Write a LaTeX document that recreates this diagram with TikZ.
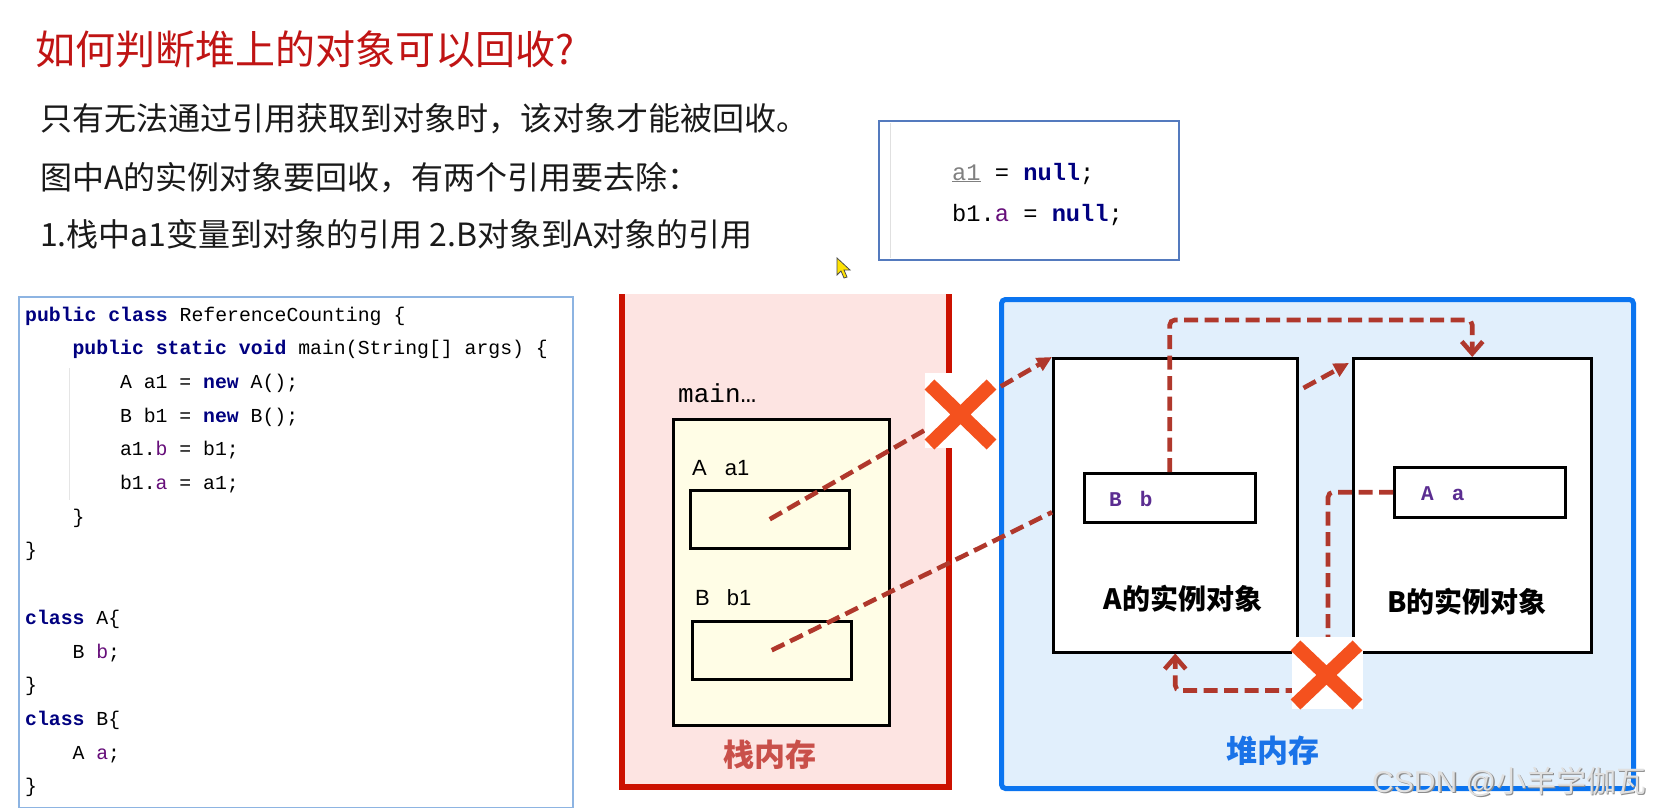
\documentclass[tikz,border=0pt]{standalone}
\usepackage{fontspec}
\setmainfont{Liberation Sans}
\newfontfamily\cjk{Noto Sans CJK SC}
\newfontfamily\mono{Liberation Mono}
\usetikzlibrary{arrows.meta,calc,shapes.misc}
\definecolor{titlered}{RGB}{192,20,20}
\definecolor{txtc}{RGB}{26,26,26}
\definecolor{kwc}{RGB}{0,0,128}
\definecolor{fldc}{RGB}{102,14,122}
\definecolor{codeborder}{RGB}{141,180,226}
\definecolor{nullborder}{RGB}{84,122,190}
\definecolor{stackfill}{RGB}{253,228,226}
\definecolor{stackred}{RGB}{204,17,0}
\definecolor{stacktxt}{RGB}{201,80,74}
\definecolor{framefill}{RGB}{255,253,230}
\definecolor{heapfill}{RGB}{225,239,252}
\definecolor{heapblue}{RGB}{10,116,240}
\definecolor{heaptxt}{RGB}{26,115,232}
\definecolor{dashred}{RGB}{176,56,44}
\definecolor{xorange}{RGB}{244,81,30}
\definecolor{varpurple}{RGB}{91,45,145}
\newcommand{\kwd}[1]{\textcolor{kwc}{\bfseries #1}}
\newcommand{\fld}[1]{\textcolor{fldc}{#1}}
\tikzset{
  box/.style={draw=black, line width=2.5pt, fill=white, inner sep=0pt, anchor=north west},
  txt/.style={inner sep=0pt, anchor=base west},
  code/.style={txt, font=\mono\fontsize{19.8}{24}\selectfont},
  body/.style={txt, text=txtc, font=\cjk\fontsize{32}{38}\selectfont},
  conn/.style={draw=dashred, line width=4.6pt, dash pattern=on 14pt off 6.5pt},
  tri/.style={-{Triangle[length=15pt,width=14pt]}},
  barb/.style={-{Straight Barb[length=12pt,width=21pt]}},
  whitesq/.style={fill=white, inner sep=0pt},
  xmark/.style={cross out, draw=xorange, line width=14pt, inner sep=0pt},
}
\begin{document}
\begin{tikzpicture}[x=1pt,y=-1pt]
\fill[white] (0,0) rectangle (1659,808);
\useasboundingbox (0,0) rectangle (1659,808);

% title and text
\node[txt, text=titlered, font=\cjk\fontsize{40}{48}\selectfont] (title) at (35,65) {如何判断堆上的对象可以回收?};
\node[body] (l1) at (40,130) {只有无法通过引用获取到对象时，该对象才能被回收。};
\node[body] (l2) at (40,189) {图中A的实例对象要回收，有两个引用要去除：};
\node[body] (l3) at (40,246) {1.栈中a1变量到对象的引用 2.B对象到A对象的引用};

% null box
\node[box, draw=nullborder, line width=2pt, minimum width=300pt, minimum height=139pt] (nullbox) at (878,120) {};
\draw[black!12, line width=1pt] ([xshift=12pt,yshift=-3pt]nullbox.north west) -- ([xshift=12pt,yshift=3pt]nullbox.south west);
\node[txt, font=\mono\fontsize{23.7}{28}\selectfont] (n1) at (952,180) {\textcolor{gray}{\underline{a1}} = \kwd{null};};
\node[txt, font=\mono\fontsize{23.7}{28}\selectfont] (n2) at (952,221) {b1.\fld{a} = \kwd{null};};

% cursor
\fill[draw=black!70, fill=yellow!85!orange, line width=0.8pt] (837,258) -- (837,275) -- (841,271) -- (844,278) -- (847,277) -- (844,270) -- (850,270) -- cycle;

% code box
\node[box, draw=codeborder, line width=2pt, minimum width=554pt, minimum height=511pt] (codebox) at (18,296) {};
\draw[black!10, line width=1pt] (69,368) -- (69,500);
\node[code] (c0) at (25,321) {\kwd{public class} ReferenceCounting \{};
\node[code] (c1) at (72.4,354.7) {\kwd{public static void} main(String[] args) \{};
\node[code] (c2) at (119.8,388.4) {A a1 = \kwd{new} A();};
\node[code] (c3) at (119.8,422.1) {B b1 = \kwd{new} B();};
\node[code] (c4) at (119.8,455.8) {a1.\fld{b} = b1;};
\node[code] (c5) at (119.8,489.5) {b1.\fld{a} = a1;};
\node[code] (c6) at (72.4,523.2) {\}};
\node[code] (c7) at (25,556.9) {\}};
\node[code] (c9) at (25,624.3) {\kwd{class} A\{};
\node[code] (c10) at (72.4,658) {B \fld{b};};
\node[code] (c11) at (25,691.7) {\}};
\node[code] (c12) at (25,725.4) {\kwd{class} B\{};
\node[code] (c13) at (72.4,759.1) {A \fld{a};};
\node[code] (c14) at (25,792.8) {\}};

% stack memory
\node[fill=stackfill, inner sep=0pt, anchor=north west, minimum width=327pt, minimum height=493pt] (stack) at (622,294) {};
\draw[stackred, line width=6pt] (stack.north west) -- (stack.south west) -- (stack.south east) -- (stack.north east);
\node[box, fill=framefill, minimum width=216pt, minimum height=306pt] (frame) at (672,418) {};
\node[box, fill=framefill, minimum width=159pt, minimum height=58pt] (a1box) at (689,489) {};
\node[box, fill=framefill, minimum width=159pt, minimum height=58pt] (b1box) at (691,620) {};
\node[txt, font=\mono\fontsize{26}{30}\selectfont] (mainlbl) at (678,402) {main…};
\node[txt, font=\fontsize{22}{26}\selectfont] (la1) at (692,475) {A\hspace{18pt}a1};
\node[txt, font=\fontsize{22}{26}\selectfont] (lb1) at (695,605) {B\hspace{17pt}b1};
\node[inner sep=0pt, anchor=base, text=stacktxt, font=\cjk\bfseries\fontsize{31}{36}\selectfont] (stacklbl) at (770,766) {栈内存};

% heap memory
\node[box, fill=heapfill, draw=heapblue, line width=5pt, rounded corners=4pt, minimum width=632pt, minimum height=489pt] (heap) at (999,297) {};
\node[box, minimum width=244pt, minimum height=294pt] (aobj) at (1052,357) {};
\node[box, minimum width=238pt, minimum height=294pt] (bobj) at (1352,357) {};
\node[box, minimum width=171pt, minimum height=49pt] (bbox) at (1083,472) {};
\node[box, minimum width=171pt, minimum height=50pt] (abox) at (1393,466) {};
\node[txt, text=varpurple, font=\mono\bfseries\fontsize{21}{25}\selectfont] (lbb) at (1109,506) {B\hspace{18pt}b};
\node[txt, text=varpurple, font=\mono\bfseries\fontsize{21}{25}\selectfont] (laa) at (1421,500) {A\hspace{18pt}a};
\node[inner sep=0pt, anchor=base, font=\cjk\bfseries\fontsize{28}{34}\selectfont] (alabel) at (1183,609) {A的实例对象};
\node[inner sep=0pt, anchor=base, font=\cjk\bfseries\fontsize{28}{34}\selectfont] (blabel) at (1467,612) {B的实例对象};
\node[inner sep=0pt, anchor=base, text=heaptxt, font=\cjk\bfseries\fontsize{31}{36}\selectfont] (heaplbl) at (1273,762) {堆内存};

% connectors
\draw[conn, tri] (a1box.center) -- (aobj.north west);
\draw[conn] (b1box.center) -- ([yshift=-7pt]aobj.west);
\draw[conn, tri] ([shift={(5,31)}]aobj.north east) -- ([shift={(-3,6)}]bobj.north west);
\draw[conn, barb, rounded corners=5pt] (bbox.north) -- ++(0,-152) -| (bobj.north);
\draw[conn, barb, rounded corners=5pt] (abox.west) -- ++(-65,0) |- ([yshift=-37pt]aobj.south) -- (aobj.south);

% crosses
\node[whitesq, minimum width=72pt, minimum height=75pt] (sq1) at (961,410.5) {};
\node[xmark, minimum width=48pt, minimum height=46pt] (x1) at (960.5,414.5) {};
\node[whitesq, minimum width=71pt, minimum height=72pt] (sq2) at (1327.5,673) {};
\node[xmark, minimum width=48pt, minimum height=45pt] (x2) at (1326.5,675) {};

% watermark
\node[txt, text=black!45, font=\fontsize{30}{36}\selectfont] (wmshadow) at (1373.5,793.5) {CSDN @{\cjk 小羊学伽瓦}};
\node[txt, text=black!12, font=\fontsize{30}{36}\selectfont] (wm) at (1372,792) {CSDN @{\cjk 小羊学伽瓦}};
\end{tikzpicture}
\end{document}
